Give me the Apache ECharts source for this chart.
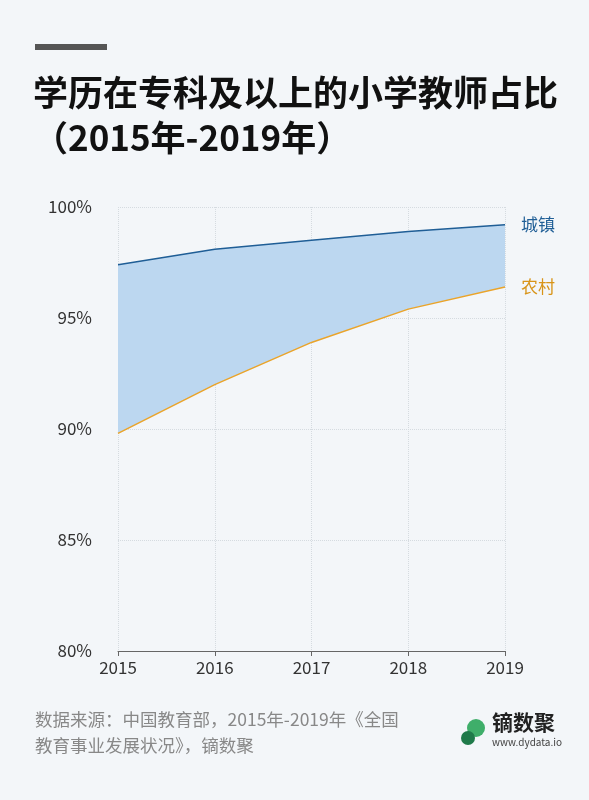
<!DOCTYPE html>
<html><head><meta charset="utf-8">
<script src="https://cdn.jsdelivr.net/npm/echarts@6/dist/echarts.min.js"></script>
<style>html,body{margin:0;padding:0;background:#f3f6f9}#c{width:589px;height:800px}</style>
</head><body><div id="c"></div>
<script>
var years = ['2015','2016','2017','2018','2019'];
var urban = [97.4, 98.1, 98.5, 98.9, 99.2];
var rural = [89.8, 92.0, 93.9, 95.4, 96.4];
var yTicks = [80, 85, 90, 95, 100];
var gap = urban.map(function(u,i){return +(u - rural[i]).toFixed(2);});
var F = '"Noto Sans CJK SC","Noto Sans",sans-serif';
var chart = echarts.init(document.getElementById('c'));
chart.setOption({
  backgroundColor:'#f3f6f9',
  textStyle:{fontFamily:F},
  grid:{left:118,right:84,top:207,bottom:149},
  xAxis:{type:'category',data:years,boundaryGap:false,
    axisLine:{lineStyle:{color:'#666'}},axisTick:{show:true,length:5,lineStyle:{color:'#666'}},
    axisLabel:{color:'#333',fontSize:17,margin:8,fontFamily:F},
    splitLine:{show:true,lineStyle:{type:'dotted',color:'#d5dbe0'}}},
  yAxis:{type:'value',min:yTicks[0],max:yTicks[yTicks.length-1],interval:5,
    axisLine:{show:false},axisTick:{show:false},
    axisLabel:{color:'#333',fontSize:17,margin:26,formatter:'{value}%',fontFamily:F},
    splitLine:{show:true,lineStyle:{type:'dotted',color:'#d5dbe0'}}},
  series:[
    {type:'line',data:rural,stack:'s',symbol:'none',lineStyle:{width:0},silent:true},
    {type:'line',data:gap,stack:'s',symbol:'none',lineStyle:{width:0},areaStyle:{color:'#bcd7f0',opacity:1},silent:true},
    {type:'line',data:urban,symbol:'none',lineStyle:{color:'#1f5e96',width:1.5},
      endLabel:{show:true,formatter:'城镇',color:'#1f5e96',fontSize:17,offset:[8,0],fontFamily:F}},
    {type:'line',data:rural,symbol:'none',lineStyle:{color:'#eaa42a',width:1.5},
      endLabel:{show:true,formatter:'农村',color:'#d89418',fontSize:17,offset:[8,0],fontFamily:F}}
  ],
  graphic:[
    {type:'rect',shape:{x:35,y:44,width:72,height:6},style:{fill:'#555'}},
    {type:'text',left:33,top:70,style:{text:'学历在专科及以上的小学教师占比\n（2015年-2019年）',fill:'#111',font:'bold 35px '+F,lineHeight:45}},
    {type:'text',left:35,top:706,style:{text:'数据来源：中国教育部，2015年-2019年《全国\n教育事业发展状况》，镝数聚',fill:'#888',font:'17.5px '+F,lineHeight:26}},
    {type:'circle',shape:{cx:476,cy:728,r:9},style:{fill:'#3fae6a'}},
    {type:'circle',shape:{cx:468,cy:738,r:7},style:{fill:'#1f7a4a'}},
    {type:'text',left:492,top:712,style:{text:'镝数聚',fill:'#222',font:'bold 21px '+F}},
    {type:'text',left:492,top:737,style:{text:'www.dydata.io',fill:'#444',font:'10px '+F}}
  ]
});
</script></body></html>
